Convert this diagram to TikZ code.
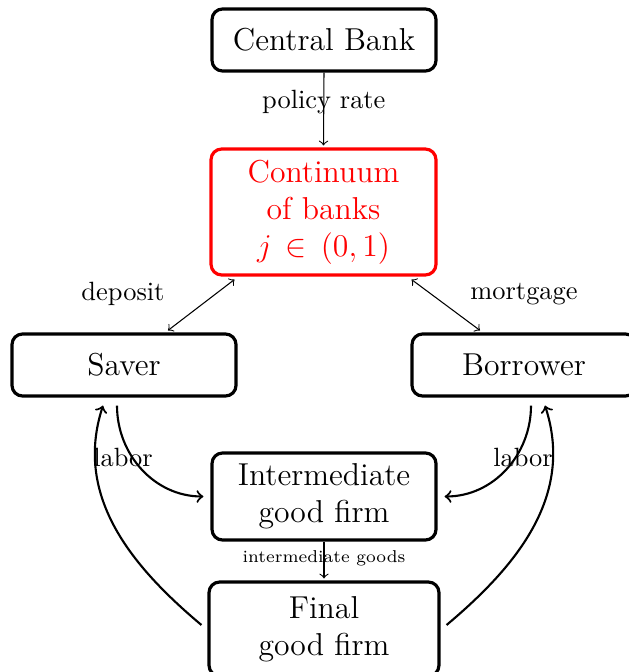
\documentclass[tikz,border=0pt]{standalone}
\usetikzlibrary{calc}
\begin{document}
\begin{tikzpicture}[x=0.3788pt,y=-0.3788pt,
  box/.style={draw,very thick,rounded corners=4pt,align=center,font=\large,inner sep=0pt},
  lbl/.style={font=\normalsize,inner sep=1pt},
  thin arrow/.style={->,line width=0.4pt},
  both arrow/.style={<->,line width=0.4pt},
  labor/.style={->,thick}]
\useasboundingbox (0,0) rectangle (629,672);
\node[box,minimum width=84.85pt,minimum height=23.49pt] (cb) at (324,40) {Central Bank};
\node[box,draw=red,text=red,minimum width=85.2pt,minimum height=47.7pt] (cont) at (323.5,212) {Continuum\\of banks\\$j\,\in\,(0,1)$};
\node[box,minimum width=84.85pt,minimum height=23.49pt] (saver) at (124,365) {Saver};
\node[box,minimum width=84.85pt,minimum height=23.49pt] (borr) at (524,365) {Borrower};
\node[box,minimum width=84.85pt,minimum height=32.96pt] (inter) at (324,496.5) {Intermediate\\good firm};
\node[box,minimum width=87.1pt,minimum height=35.6pt] (final) at (324,629) {Final\\good firm};

\draw[thin arrow] (cb.south) -- node[lbl,pos=0.4] {policy rate} ($(cont.north)+(0,-2)$);
\draw[thin arrow] (inter.south) -- node[lbl,pos=0.45,font=\fontsize{6.5}{8}\selectfont] {intermediate goods} ($(final.north)+(0,-2)$);

\draw[both arrow] ($(cont.south west)+(25,3)$) -- ($(saver.north)+(44,-2)$);
\draw[both arrow] ($(cont.south east)+(-26,3)$) -- ($(borr.north)+(-44,-2)$);
\node[lbl] (dep) at (123,294) {deposit};
\node[lbl] (mort) at (524,294) {mortgage};

\draw[labor] ($(saver.south)+(-7,8)$) to[out=-90,in=180] ($(inter.west)+(-7,0)$);
\draw[labor] ($(final.west)+(-6,-4)$) to[out=140,in=-108] ($(saver.south)+(-21,8)$);
\draw[labor] ($(borr.south)+(7,8)$) to[out=-90,in=0] ($(inter.east)+(7,0)$);
\draw[labor] ($(final.east)+(6,-4)$) to[out=40,in=-72] ($(borr.south)+(21,8)$);
\node[lbl] (lab1) at (123,457) {labor};
\node[lbl] (lab2) at (523,457) {labor};
\end{tikzpicture}
\end{document}
